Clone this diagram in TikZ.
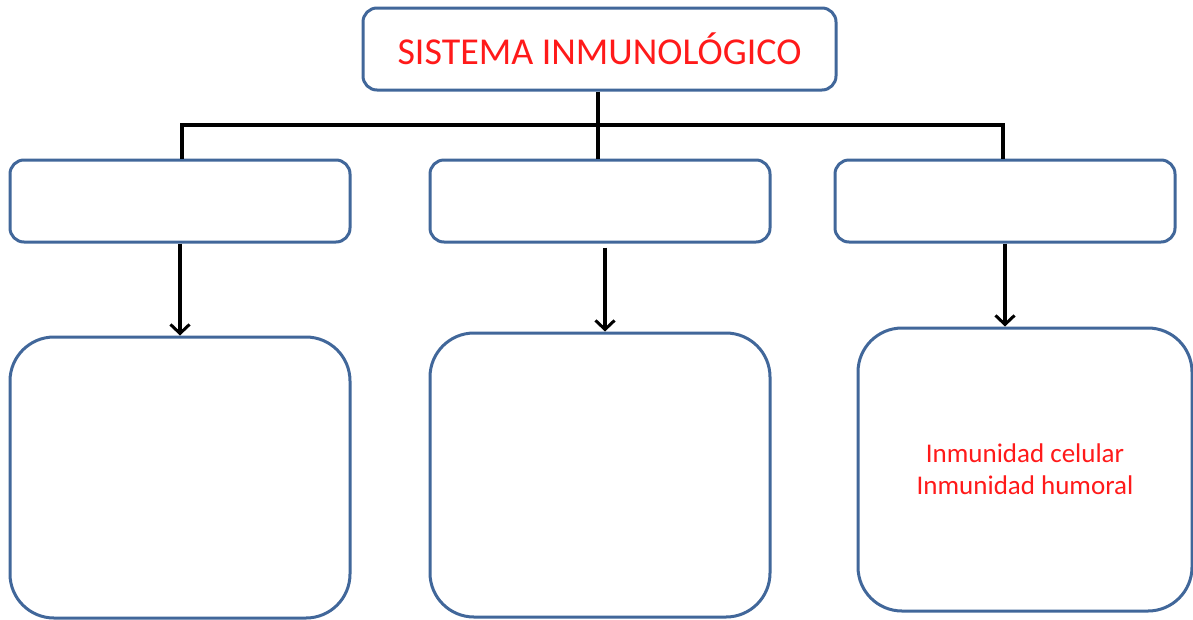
\documentclass[tikz,border=0pt]{standalone}
\usepackage{fontspec}
\setmainfont{Carlito}
\usetikzlibrary{arrows.meta}
\definecolor{boxblue}{HTML}{41679A}
\definecolor{txtred}{HTML}{FF1A1A}

\begin{document}
\begin{tikzpicture}[x=1pt,y=-1pt,
    box/.style={draw=boxblue,line width=3pt,rounded corners=14pt,fill=white,inner sep=0pt},
    bigbox/.style={box,rounded corners=44pt},
    conn/.style={line width=3.5pt},
    arr/.style={conn,-{Straight Barb[length=9pt,width=19pt,line width=3pt]}}]
    \useasboundingbox (0,0) rectangle (1193,619);

    \node[box,minimum width=473pt,minimum height=82pt,text=txtred,font=\fontsize{38}{42}\selectfont](top) at (599.5,49) {SISTEMA INMUNOLÓGICO};

    \node[box,minimum width=340pt,minimum height=82pt](m1) at (180,201) {};
    \node[box,minimum width=340pt,minimum height=82pt](m2) at (600,201) {};
    \node[box,minimum width=340pt,minimum height=82pt](m3) at (1005,201) {};

    \node[bigbox,minimum width=340pt,minimum height=281pt](b1) at (180,477.5) {};
    \node[bigbox,minimum width=340pt,minimum height=284pt](b2) at (600,475) {};
    \node[bigbox,minimum width=334pt,minimum height=283pt,text=txtred,align=center,
        font=\fontsize{27}{32}\selectfont](b3) at (1025,469.5) {Inmunidad celular\\Inmunidad humoral};

    \coordinate (j) at (598,125);
    \draw[conn] ([xshift=-1.5pt]top.south) -- (j);
    \draw[conn] (j) -| ([xshift=2pt]m1.north);
    \draw[conn] (j) -- ([xshift=-2pt]m2.north);
    \draw[conn] (j) -| ([xshift=-2pt]m3.north);

    \draw[arr] (m1.south) -- (b1.north);
    \draw[arr] ([xshift=5pt,yshift=-4pt]m2.south) -- ([xshift=5pt]b2.north);
    \draw[arr] (m3.south) -- (m3.south |- b3.north);
\end{tikzpicture}
\end{document}
